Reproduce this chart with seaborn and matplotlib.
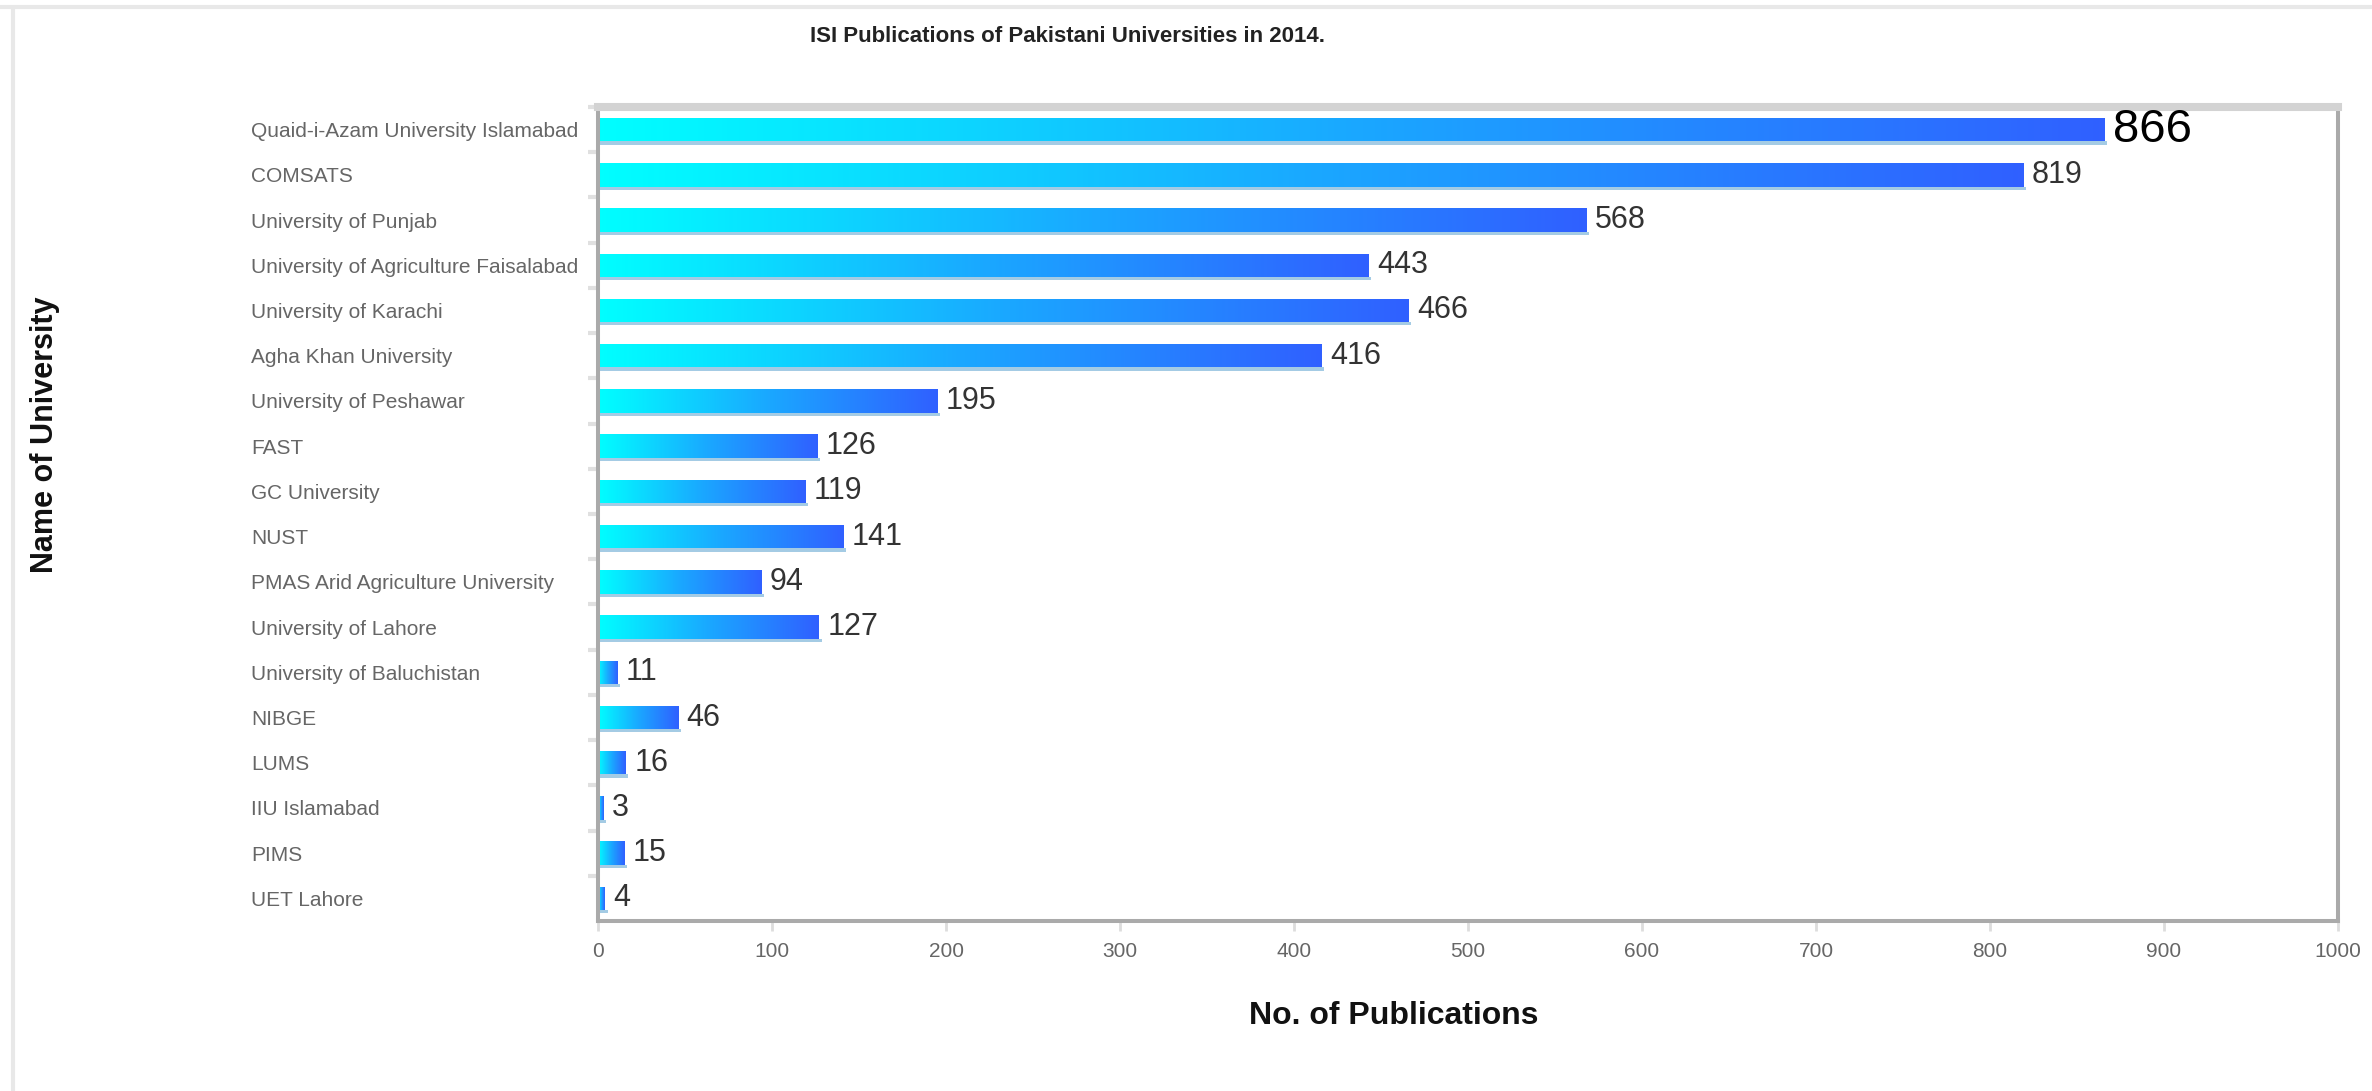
import numpy as np
import pandas as pd
import seaborn as sns
import matplotlib.pyplot as plt
import matplotlib.colors as mcolors
from matplotlib.patches import Rectangle
from matplotlib.lines import Line2D

# Daten
universities = [
    "Quaid-i-Azam University Islamabad",
    "COMSATS",
    "University of Punjab",
    "University of Agriculture Faisalabad",
    "University of Karachi",
    "Agha Khan University",
    "University of Peshawar",
    "FAST",
    "GC University",
    "NUST",
    "PMAS Arid Agriculture University",
    "University of Lahore",
    "University of Baluchistan",
    "NIBGE",
    "LUMS",
    "IIU Islamabad",
    "PIMS",
    "UET Lahore",
]
publications = [866, 819, 568, 443, 466, 416, 195, 126, 119, 141, 94, 127, 11, 46, 16, 3, 15, 4]
value_labels = [str(v) for v in publications]
x_ticks = list(range(0, 1001, 100))

title = "ISI Publications of Pakistani Universities in 2014."
x_title = "No. of Publications"
y_title = "Name of University"

sns.set_theme(style="white")
plt.rcParams['font.family'] = ['Liberation Sans', 'DejaVu Sans']

df = pd.DataFrame({"University": universities, "Publications": publications})

W, H = 2372, 1091
fig = plt.figure(figsize=(W / 100, H / 100), dpi=100)
ax = fig.add_axes([598 / W, 1 - 921 / H, (2338 - 598) / W, (921 - 107) / H])

sns.barplot(data=df, x="Publications", y="University", orient="h", width=0.52,
            color="#1AA8FF", saturation=1, ax=ax)

# Farbverlauf cyan -> blau pro Balken
grad_cmap = mcolors.LinearSegmentedColormap.from_list("bars", ["#00FFFF", "#1AA8FF", "#3060FF"])
gradient = np.linspace(0, 1, 256).reshape(1, -1)
bars = list(ax.patches)
for patch in bars:
    x0, y0 = patch.get_x(), patch.get_y()
    w, h = patch.get_width(), patch.get_height()
    # leichter Schatten unter dem Balken
    ax.add_patch(Rectangle((x0, y0 + h), w + 1.5, 0.07, color="#a4cbe4", lw=0, zorder=1.5))
    im = ax.imshow(gradient, extent=[x0, x0 + w, y0 + h, y0], cmap=grad_cmap,
                   aspect="auto", zorder=2.5)
    im.set_clip_path(patch)

ax.set_xlim(0, 1000)
ax.set_ylim(len(universities) - 0.5, -0.5)

# Werte an den Balken
texts = ax.bar_label(ax.containers[0], labels=value_labels, padding=6, fontsize=22, color="#333333")
texts[0].set_fontsize(34)
texts[0].set_color("black")

# Achsen / Rahmen
ax.spines['top'].set_color('#d3d3d3')
ax.spines['top'].set_linewidth(5.8)
for side in ['right', 'bottom', 'left']:
    ax.spines[side].set_color('#aaaaaa')
    ax.spines[side].set_linewidth(2.9)

ax.set_xticks(x_ticks)
ax.tick_params(axis='x', bottom=True, length=7, width=2, color='#dddddd',
               labelsize=15, labelcolor='#666666', pad=8)
ax.tick_params(axis='y', which='major', length=0, pad=250, labelsize=15, labelcolor='#666666')
for label in ax.get_yticklabels():
    label.set_ha('left')
ax.set_yticks(np.arange(-0.5, len(universities) - 0.5, 1), minor=True)
ax.tick_params(axis='y', which='minor', left=True, length=7, width=3, color='#e0e0e0')
ax.set_xlabel("")
ax.set_ylabel("")

# Titel und Achsentitel
fig.text(1068 / W, 1 - 37 / H, title, ha='center', va='center', fontsize=16,
         fontweight='bold', color='#222222')
fig.text(1394 / W, 1 - 1016 / H, x_title, ha='center', va='center', fontsize=23,
         fontweight='bold', color='#111111')
fig.text(45 / W, 1 - 435 / H, y_title, ha='center', va='center', rotation=90,
         fontsize=22, fontweight='bold', color='#111111')

# Seitenrand
fig.add_artist(Line2D([0, 1], [1 - 7 / H] * 2, transform=fig.transFigure, color='#e8e8e8', lw=3))
fig.add_artist(Line2D([13 / W] * 2, [0, 1 - 7 / H], transform=fig.transFigure, color='#e8e8e8', lw=3))

fig.savefig("out.png", dpi=100)
